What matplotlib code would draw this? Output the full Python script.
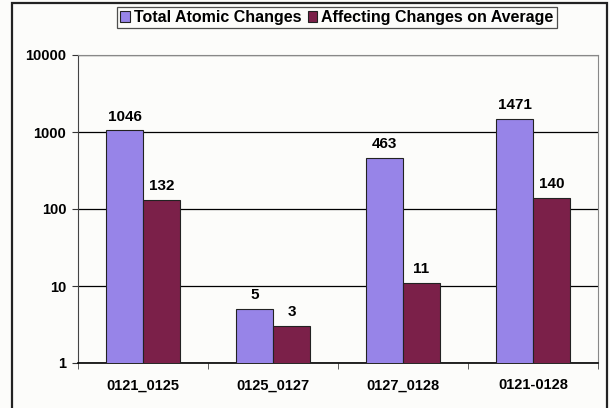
import matplotlib.pyplot as plt
import numpy as np
from matplotlib.patches import Rectangle

plt.rcParams['font.family'] = ['Liberation Sans', 'DejaVu Sans']
plt.rcParams['font.weight'] = 'bold'

categories = ['0121_0125', '0125_0127', '0127_0128', '0121-0128']
total_atomic = [1046, 5, 463, 1471]
affecting_avg = [132, 3, 11, 140]
series_names = ['Total Atomic Changes', 'Affecting Changes on Average']

bg = '#fcfcfa'
c_total = '#9784e8'
c_affect = '#7b2049'

fig = plt.figure(figsize=(6.1, 4.08), dpi=100, facecolor=bg)
W, H = 610, 408
ax = fig.add_axes([78 / W, 1 - 363 / H, (598 - 78) / W, (363 - 55) / H])
ax.set_facecolor(bg)

# outer chart frame
fig.patches.append(Rectangle((12.5 / W, -0.05), (607 - 12.5) / W, 1 - 3 / H + 0.05,
                             transform=fig.transFigure, fill=False,
                             edgecolor='#222222', linewidth=1.6))

x = np.arange(len(categories))
w = 0.285
b1 = ax.bar(x - w / 2, total_atomic, w, color=c_total, edgecolor='#222222',
            linewidth=0.8, label=series_names[0], zorder=3)
b2 = ax.bar(x + w / 2, affecting_avg, w, color=c_affect, edgecolor='#222222',
            linewidth=0.8, label=series_names[1], zorder=3)

for bars, vals in [(b1, total_atomic), (b2, affecting_avg)]:
    for r, v in zip(bars, vals):
        ax.annotate(str(v), (r.get_x() + r.get_width() / 2, v), xytext=(0, 5),
                    textcoords='offset points', ha='center', va='bottom',
                    fontsize=11, fontweight='bold')

ax.set_yscale('log')
ax.set_ylim(1, 10000)
ax.set_xlim(-0.5, len(categories) - 0.5)
ax.set_yticks([1, 10, 100, 1000, 10000])
ax.set_yticklabels(['1', '10', '100', '1000', '10000'])
ax.minorticks_off()
ax.yaxis.grid(True, color='black', linewidth=0.9, zorder=0)
ax.set_axisbelow(True)

ax.set_xticks(x)
ax.set_xticklabels(categories)
ax.tick_params(axis='x', length=0, pad=11, labelsize=10.5)
ax.set_xticks(np.arange(-0.5, len(categories)), minor=True)
ax.tick_params(axis='x', which='minor', length=4, direction='out', color='#444444')
ax.tick_params(axis='y', length=4.5, pad=4, direction='out', labelsize=10.5, color='#333333')

ax.spines['top'].set_color('#888888')
ax.spines['right'].set_color('#888888')
ax.spines['left'].set_color('#444444')
ax.spines['bottom'].set_color('black')
ax.spines['bottom'].set_linewidth(1.2)

leg = fig.legend(handles=[b1, b2], loc='upper left', bbox_to_anchor=(117 / W, 1 - 7 / H),
                 ncol=2, frameon=True, fancybox=False, edgecolor='#222222',
                 facecolor=bg, fontsize=11.5, handlelength=0.6, handleheight=0.6,
                 handletextpad=0.25, columnspacing=0.4, borderpad=0.2,
                 borderaxespad=0)
leg.get_frame().set_linewidth(0.9)

fig.savefig('out.png', dpi=100, facecolor=bg)
